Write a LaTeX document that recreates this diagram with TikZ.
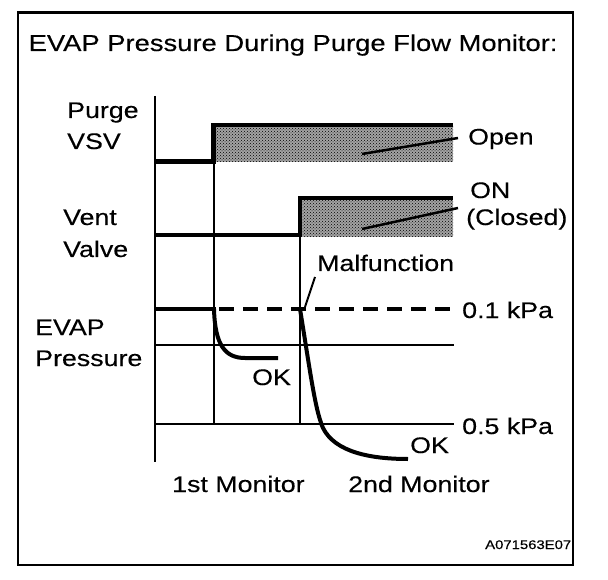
\documentclass[tikz,border=0pt]{standalone}
\usepackage{fontspec}
\setmainfont{Liberation Sans}[FakeStretch=1.19,FakeBold=0.3]
\usetikzlibrary{patterns}
\begin{document}
\begin{tikzpicture}[x=1pt,y=-1pt,
  lbl/.style={anchor=base west,inner sep=0pt,font=\fontsize{22.5}{27}\selectfont},
  small/.style={anchor=base west,inner sep=0pt,font=\fontsize{12.5}{15}\selectfont},
  thickln/.style={line width=4.5pt},
  curveln/.style={line width=4pt},
  thinln/.style={line width=1.3pt},
  leader/.style={line width=2.5pt},
  shadebox/.style={fill=black!36},
  shadetex/.style={pattern=crosshatch dots, pattern color=black}]
\useasboundingbox (0,0) rectangle (608,580);
\fill[white] (0,0) rectangle (608,580);
\draw[line width=2.8pt] (18,12.5) rectangle (573,565);
% text
\node[lbl, font=\fontsize{23}{27}\selectfont] (title) at (28.5,51) {EVAP Pressure During Purge Flow Monitor:};
\node[lbl] (purge) at (67,118) {Purge};
\node[lbl] (vsv) at (67,149) {VSV};
\node[lbl] (vent) at (63,225) {Vent};
\node[lbl] (valve) at (63,257) {Valve};
\node[lbl] (evap) at (35,335) {EVAP};
\node[lbl] (pressure) at (35,366) {Pressure};
\node[lbl] (open) at (468,144.5) {Open};
\node[lbl] (on) at (470,198) {ON};
\node[lbl] (closed) at (466,225) {(Closed)};
\node[lbl] (malf) at (317,271) {Malfunction};
\node[lbl] (p01) at (462,318) {0.1 kPa};
\node[lbl] (p05) at (462,434) {0.5 kPa};
\node[lbl] (ok1) at (252,385) {OK};
\node[lbl] (ok2) at (410,453) {OK};
\node[lbl] (m1) at (172,492) {1st Monitor};
\node[lbl] (m2) at (348,492) {2nd Monitor};
\node[small] (code) at (485,549) {A071563E07};
% shading
\fill[shadebox] (215,127) rectangle (453,162);
\fill[shadebox] (302,200) rectangle (453,237);
\fill[shadetex] (215,127) rectangle (453,162);
\fill[shadetex] (302,200) rectangle (453,237);
% grid
\draw[thinln] (155,96) -- (155,462);
\draw[thinln] (214,162) -- (214,424);
\draw[thinln] (300,237) -- (300,424);
\draw[thinln] (155,345) -- (454,345);
\draw[thinln] (155,424) -- (454,424);
% signals
\draw[thickln] (155,161.5) -- (213.5,161.5) -- (213.5,125) -- (453,125);
\draw[thickln] (155,235) -- (300,235) -- (300,198) -- (453,198);
\draw[thickln] (155,309) -- (216,309);
\draw[thickln, dash pattern=on 15pt off 9pt] (219,309) -- (450,309);
% pressure curves
\coordinate (c1s) at (214,309);
\coordinate (c1e) at (278,358);
\draw[curveln] (c1s) .. controls (215,345) and (225,358) .. (245,358) -- (c1e);
\coordinate (c2s) at (300,309);
\coordinate (c2e) at (408,459);
\draw[curveln] (c2s) .. controls (310,370) and (315,410) .. (323,428) .. controls (335,452) and (370,459) .. (c2e);
% leaders
\coordinate (l1a) at (362,154); \coordinate (l1b) at (458,138);
\coordinate (l2a) at (362,229); \coordinate (l2b) at (458,208);
\coordinate (l3a) at (315,277); \coordinate (l3b) at (305,307);
\draw[leader] (l1a) -- (l1b);
\draw[leader] (l2a) -- (l2b);
\draw[line width=2pt] (l3a) -- (l3b);
\end{tikzpicture}
\end{document}
